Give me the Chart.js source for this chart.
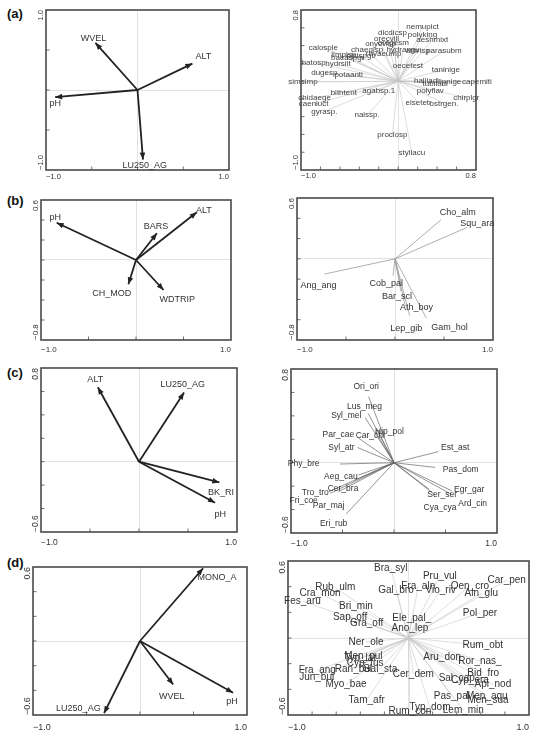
<!DOCTYPE html>
<html lang="en">
<head>
  <meta charset="UTF-8">
  <title>Ordination biplots (a)-(d)</title>
  <script src="https://cdn.jsdelivr.net/npm/chart.js"></script>
  <style>
    body { margin: 0; background: #fff; width: 537px; height: 731px; position: relative; overflow: hidden; font-family: "Liberation Sans", Arial, sans-serif; }
    .tag { position: absolute; font-weight: bold; font-size: 13px; color: #111; }
  </style>
</head>
<body>
  <div class="tag" style="left:7px;top:6px">(a)</div>
  <div class="tag" style="left:7px;top:193px">(b)</div>
  <div class="tag" style="left:7px;top:365px">(c)</div>
  <div class="tag" style="left:7px;top:555px">(d)</div>

  <script>
    // axis limits
    const aLeftX = [-1.0, 1.0], aLeftY = [-1.0, 1.0];
    const aRightX = [-1.0, 0.8], aRightY = [-1.0, 0.8];
    const bX = [-1.0, 1.0], bY = [-0.8, 0.6];
    const cX = [-1.0, 1.0], cY = [-0.6, 0.8];
    const dX = [-1.0, 1.0], dY = [-0.6, 0.6];

    // (a) environmental arrows
    const aEnvNames = ['WVEL', 'ALT', 'pH', 'LU250_AG'];
    const aEnvX = [-0.46, 0.60, -0.90, 0.06];
    const aEnvY = [0.59, 0.33, -0.09, -0.87];
    const aEnvLabX = [-0.48, 0.72, -0.90, 0.08];
    const aEnvLabY = [0.645, 0.415, -0.175, -0.94];

    // (a) taxa
    const aSpNames = ['nemupict', 'dicdicsp', 'polyking', 'aeshmixt', 'orecvili', 'onycvisp', 'oregesm', 'calosple',
      'parasubm', 'chaeqlsp', 'rhyaeump', 'hydrangu', 'athrisp', 'limpisp', 'baeaspgr', 'pisispgr', 'batosp',
      'hydrsilt', 'oecetest', 'taninige', 'dugesp', 'potaanti', 'simsimp', 'halliadi', 'tubiludi', 'lipnige',
      'capemiti', 'bithtent', 'agabsp.1', 'polyflav', 'chirplgr', 'chidaege', 'caenluct', 'eisetetr', 'ostrgen.',
      'gyrasp.', 'naissp.', 'proclosp', 'styllacu'];
    const aSpX = [0.25, -0.06, 0.25, 0.35, -0.12, -0.18, -0.05, -0.77, 0.47, -0.32, -0.15, 0.05, 0.20, -0.56, -0.52,
      -0.39, -0.87, -0.62, 0.10, 0.49, -0.76, -0.51, -0.98, 0.29, 0.38, 0.53, 0.81, -0.56, -0.20, 0.33, 0.70, -0.86,
      -0.87, 0.21, 0.47, -0.76, -0.32, -0.06, 0.14];
    const aSpY = [0.61, 0.54, 0.52, 0.47, 0.48, 0.42, 0.43, 0.38, 0.34, 0.35, 0.31, 0.35, 0.34, 0.30, 0.26, 0.28, 0.21,
      0.19, 0.17, 0.13, 0.09, 0.07, -0.01, 0.0, -0.03, -0.01, -0.01, -0.13, -0.11, -0.11, -0.19, -0.19, -0.26, -0.24,
      -0.25, -0.34, -0.38, -0.60, -0.81];

    // (b) environmental arrows
    const bEnvNames = ['pH', 'ALT', 'BARS', 'CH_MOD', 'WDTRIP'];
    const bEnvX = [-0.835, 0.64, 0.22, -0.08, 0.29];
    const bEnvY = [0.373, 0.477, 0.267, -0.243, -0.30];
    const bEnvLabX = [-0.85, 0.715, 0.21, -0.255, 0.435];
    const bEnvLabY = [0.42, 0.49, 0.33, -0.333, -0.40];

    // (b) fish
    const bSpNames = ['Cho_alm', 'Squ_ara', 'Ang_ang', 'Cob_pal', 'Bar_scl', 'Ath_boy', 'Lep_gib', 'Gam_hol'];
    const bSpX = [0.47, 0.735, -0.72, -0.02, 0.06, 0.105, 0.15, 0.32];
    const bSpY = [0.385, 0.31, -0.15, -0.165, -0.32, -0.47, -0.56, -0.585];
    const bSpLabX = [0.64, 0.84, -0.78, -0.09, 0.02, 0.22, 0.115, 0.555];
    const bSpLabY = [0.46, 0.345, -0.26, -0.245, -0.375, -0.475, -0.685, -0.68];

    // (c) environmental arrows
    const cEnvNames = ['ALT', 'LU250_AG', 'BK_RI', 'pH'];
    const cEnvX = [-0.42, 0.46, 0.82, 0.776];
    const cEnvY = [0.636, 0.59, -0.177, -0.35];
    const cEnvLabX = [-0.446, 0.447, 0.837, 0.83];
    const cEnvLabY = [0.70, 0.655, -0.26, -0.455];

    // (c) birds
    const cSpNames = ['Ori_ori', 'Lus_meg', 'Syl_mel', 'Hip_pol', 'Car_chl', 'Par_cae', 'Syl_atr', 'Est_ast', 'Phy_bre',
      'Pas_dom', 'Aeg_cau', 'Cer_bra', 'Tro_tro', 'Fri_coe', 'Par_maj', 'Eri_rub', 'Egr_gar', 'Ser_ser', 'Ard_cin', 'Cya_cya'];
    const cSpX = [-0.247, -0.25, -0.28, -0.166, -0.18, -0.345, -0.355, 0.43, -0.523, 0.40, -0.345, -0.38, -0.635, -0.62,
      -0.54, -0.463, 0.56, 0.343, 0.57, 0.40];
    const cSpY = [0.565, 0.42, 0.385, 0.29, 0.265, 0.21, 0.13, 0.094, -0.011, -0.04, -0.105, -0.148, -0.248, -0.262,
      -0.248, -0.437, -0.24, -0.228, -0.276, -0.276];
    const cSpLabX = [-0.27, -0.286, -0.463, -0.044, -0.23, -0.54, -0.51, 0.595, -0.877, 0.648, -0.516, -0.495, -0.764,
      -0.877, -0.635, -0.586, 0.73, 0.468, 0.764, 0.447];
    const cSpLabY = [0.65, 0.48, 0.40, 0.262, 0.228, 0.24, 0.125, 0.125, -0.011, -0.063, -0.122, -0.219, -0.256, -0.325,
      -0.368, -0.52, -0.228, -0.276, -0.353, -0.385];

    // (d) environmental arrows
    const dEnvNames = ['MONO_A', 'LU250_AG', 'WVEL', 'pH'];
    const dEnvX = [0.59, -0.336, 0.31, 0.87];
    const dEnvY = [0.59, -0.585, -0.353, -0.42];
    const dEnvLabX = [0.72, -0.576, 0.296, 0.86];
    const dEnvLabY = [0.518, -0.546, -0.452, -0.49];

    // (d) plants
    const dSpNames = ['Bra_syl', 'Pru_vul', 'Fra_aln', 'Vio_riv', 'Oen_cro', 'Car_pen', 'Aln_glu', 'Rub_ulm', 'Cra_mon',
      'Fes_aru', 'Gal_bro', 'Bri_min', 'Pol_per', 'Sap_off', 'Gra_off', 'Ele_pal_', 'Ano_lep', 'Ner_ole', 'Rum_obt',
      'Men_pul', 'Typ_lat', 'Cyp_fus', 'Aru_don', 'Ror_nas_', 'Fra_ang', 'Ran_bul', 'Gal_sta', 'Cer_dem', 'Jun_bul',
      'Bid_fro', 'Sal_cap', 'Cyp_era', 'Api_nod', 'Myo_bae', 'Tam_afr', 'Pas_pal', 'Men_aqu', 'Men_sua', 'Typ_dom',
      'Rum_con', 'Lem_min'];
    const dSpX = [-0.147, 0.26, 0.081, 0.267, 0.51, 0.815, 0.604, -0.608, -0.734, -0.88, -0.104, -0.436, 0.593, -0.485,
      -0.347, 0.027, 0.012, -0.353, 0.617, -0.375, -0.402, -0.36, 0.28, 0.593, -0.757, -0.457, -0.236, 0.04, -0.762,
      0.62, 0.40, 0.51, 0.70, -0.519, -0.347, 0.36, 0.65, 0.66, 0.178, 0.012, 0.455];
    const dSpY = [0.546, 0.483, 0.405, 0.372, 0.405, 0.45, 0.351, 0.393, 0.347, 0.287, 0.372, 0.248, 0.196, 0.164,
      0.113, 0.157, 0.074, -0.03, -0.056, -0.14, -0.16, -0.198, -0.153, -0.178, -0.25, -0.242, -0.242, -0.283, -0.307,
      -0.271, -0.315, -0.327, -0.362, -0.362, -0.483, -0.45, -0.452, -0.483, -0.543, -0.574, -0.566];

    const FONT = '"Liberation Sans", Arial, sans-serif';
    const M = { l: 26, t: 12, r: 44, b: 18 };

    function fmt(v) {
      return (v < 0 ? '\u2212' : '') + Math.abs(v).toFixed(1);
    }

    // frame, inner ticks, rotated y labels, arrowheads and text labels
    const biplotPlugin = {
      id: 'biplot',
      afterDatasetsDraw(chart, args, opts) {
        const ctx = chart.ctx, xs = chart.scales.x, ys = chart.scales.y;
        const area = chart.chartArea;
        ctx.save();
        if (opts.arrows) {
          ctx.fillStyle = opts.arrowColor;
          chart.data.datasets.forEach((ds, i) => {
            const pts = chart.getDatasetMeta(i).data;
            const p0 = pts[0], p1 = pts[1];
            const a = Math.atan2(p1.y - p0.y, p1.x - p0.x);
            const len = 7, hw = 2.8;
            ctx.beginPath();
            ctx.moveTo(p1.x, p1.y);
            ctx.lineTo(p1.x - len * Math.cos(a) + hw * Math.sin(a), p1.y - len * Math.sin(a) - hw * Math.cos(a));
            ctx.lineTo(p1.x - len * Math.cos(a) - hw * Math.sin(a), p1.y - len * Math.sin(a) + hw * Math.cos(a));
            ctx.closePath();
            ctx.fill();
          });
        }
        // frame
        ctx.strokeStyle = '#4a4a4a';
        ctx.lineWidth = 1.6;
        ctx.strokeRect(area.left, area.top, area.right - area.left, area.bottom - area.top);
        // small inner ticks
        ctx.lineWidth = 0.8;
        ctx.beginPath();
        for (let k = Math.ceil(xs.min / opts.stepX); k * opts.stepX < xs.max - 1e-6; k++) {
          const v = k * opts.stepX;
          if (v <= xs.min + 1e-6) continue;
          const px = xs.getPixelForValue(v);
          ctx.moveTo(px, area.bottom); ctx.lineTo(px, area.bottom - 3.5);
        }
        for (let k = Math.ceil(ys.min / opts.stepY); k * opts.stepY < ys.max - 1e-6; k++) {
          const v = k * opts.stepY;
          if (v <= ys.min + 1e-6) continue;
          const py = ys.getPixelForValue(v);
          ctx.moveTo(area.left, py); ctx.lineTo(area.left + 3.5, py);
        }
        ctx.stroke();
        // rotated y tick labels
        ctx.fillStyle = '#333';
        ctx.font = opts.tickSize + 'px ' + FONT;
        ctx.textBaseline = 'middle';
        [[ys.max, 'right'], [ys.min, 'left']].forEach(([v, al]) => {
          ctx.save();
          ctx.translate(area.left - 5, ys.getPixelForValue(v));
          ctx.rotate(-Math.PI / 2);
          ctx.textAlign = al;
          ctx.fillText(fmt(v), 0, 0);
          ctx.restore();
        });
        // point labels
        ctx.fillStyle = opts.textColor;
        ctx.font = opts.labelSize + 'px ' + FONT;
        ctx.textAlign = 'center';
        ctx.textBaseline = 'middle';
        opts.names.forEach((n, i) => {
          ctx.fillText(n, xs.getPixelForValue(opts.lx[i]), ys.getPixelForValue(opts.ly[i]));
        });
        ctx.restore();
      }
    };

    function makePanel(cfg) {
      const [L, T, R, B] = cfg.box;
      const w = R - L + M.l + M.r, h = B - T + M.t + M.b;
      const cv = document.createElement('canvas');
      cv.width = w; cv.height = h;
      cv.style.cssText = `position:absolute;left:${L - M.l}px;top:${T - M.t}px;width:${w}px;height:${h}px`;
      document.body.appendChild(cv);

      const datasets = cfg.names.map((n, i) => ({
        label: n,
        data: [{ x: 0, y: 0 }, { x: cfg.x[i], y: cfg.y[i] }],
        showLine: true,
        borderColor: cfg.lineColor,
        borderWidth: cfg.lineWidth,
        pointRadius: 0
      }));

      const crossGrid = {
        color: c => (c.tick && c.tick.value === 0) ? '#d6d6d6' : 'rgba(0,0,0,0)',
        lineWidth: 0.7,
        drawTicks: false
      };

      new Chart(cv, {
        type: 'scatter',
        data: { datasets },
        options: {
          responsive: false,
          animation: false,
          events: [],
          layout: { padding: { left: 0, top: M.t, right: M.r, bottom: 0 } },
          scales: {
            x: {
              type: 'linear', min: cfg.xr[0], max: cfg.xr[1],
              afterBuildTicks: s => { s.ticks = [{ value: s.min }, { value: 0 }, { value: s.max }]; },
              afterFit: s => { s.height = M.b; },
              grid: crossGrid,
              border: { display: false },
              ticks: {
                align: 'inner', padding: cfg.tickPad, color: '#333', maxRotation: 0, autoSkip: false,
                font: { size: cfg.tickSize, family: FONT },
                callback: v => v === 0 ? '' : fmt(v)
              }
            },
            y: {
              type: 'linear', min: cfg.yr[0], max: cfg.yr[1],
              afterBuildTicks: s => { s.ticks = [{ value: s.min }, { value: 0 }, { value: s.max }]; },
              afterFit: s => { s.width = M.l; },
              grid: crossGrid,
              border: { display: false },
              ticks: { display: false }
            }
          },
          plugins: {
            legend: { display: false },
            tooltip: { enabled: false },
            biplot: {
              arrows: cfg.arrows, arrowColor: cfg.lineColor,
              names: cfg.names, lx: cfg.lx, ly: cfg.ly,
              labelSize: cfg.labelSize, textColor: cfg.textColor,
              tickSize: cfg.tickSize, stepX: cfg.stepX, stepY: cfg.stepY
            }
          }
        },
        plugins: [biplotPlugin]
      });
    }

    const ARROW = { arrows: true, lineColor: '#222', lineWidth: 1.8, labelSize: 9, textColor: '#333' };

    makePanel(Object.assign({}, ARROW, { box: [46, 10, 229, 170], xr: aLeftX, yr: aLeftY, names: aEnvNames, x: aEnvX, y: aEnvY,
      lx: aEnvLabX, ly: aEnvLabY, tickPad: 2, tickSize: 7.5, stepX: 0.5, stepY: 0.5 }));
    makePanel({ box: [301, 10, 476, 170], xr: aRightX, yr: aRightY, names: aSpNames, x: aSpX, y: aSpY, lx: aSpX, ly: aSpY,
      arrows: false, lineColor: '#c4c4c4', lineWidth: 0.6, labelSize: 8, textColor: '#444',
      tickPad: 1, tickSize: 7.5, stepX: 0.2, stepY: 0.2 });

    makePanel(Object.assign({}, ARROW, { box: [41, 200, 231, 340], xr: bX, yr: bY, names: bEnvNames, x: bEnvX, y: bEnvY,
      lx: bEnvLabX, ly: bEnvLabY, tickPad: 5, tickSize: 8, stepX: 0.5, stepY: 0.2 }));
    makePanel({ box: [297, 198, 493, 340], xr: bX, yr: bY, names: bSpNames, x: bSpX, y: bSpY, lx: bSpLabX, ly: bSpLabY,
      arrows: false, lineColor: '#9a9a9a', lineWidth: 0.8, labelSize: 9, textColor: '#333',
      tickPad: 5, tickSize: 8, stepX: 0.5, stepY: 0.2 });

    makePanel(Object.assign({}, ARROW, { box: [41, 368, 237, 532], xr: cX, yr: cY, names: cEnvNames, x: cEnvX, y: cEnvY,
      lx: cEnvLabX, ly: cEnvLabY, tickPad: 6, tickSize: 8.5, stepX: 0.5, stepY: 0.2 }));
    makePanel({ box: [291, 369, 497, 533], xr: cX, yr: cY, names: cSpNames, x: cSpX, y: cSpY, lx: cSpLabX, ly: cSpLabY,
      arrows: false, lineColor: '#666', lineWidth: 0.7, labelSize: 8.5, textColor: '#333',
      tickPad: 6, tickSize: 8.5, stepX: 0.5, stepY: 0.2 });

    makePanel(Object.assign({}, ARROW, { box: [33, 567, 247, 715], xr: dX, yr: dY, names: dEnvNames, x: dEnvX, y: dEnvY,
      lx: dEnvLabX, ly: dEnvLabY, tickPad: 7, tickSize: 9, stepX: 0.5, stepY: 0.2 }));
    makePanel({ box: [288, 561, 529, 715], xr: dX, yr: dY, names: dSpNames, x: dSpX, y: dSpY, lx: dSpX, ly: dSpY,
      arrows: false, lineColor: '#c8c8c8', lineWidth: 0.6, labelSize: 10, textColor: '#333',
      tickPad: 7, tickSize: 9, stepX: 0.2, stepY: 0.2 });
  </script>
</body>
</html>
